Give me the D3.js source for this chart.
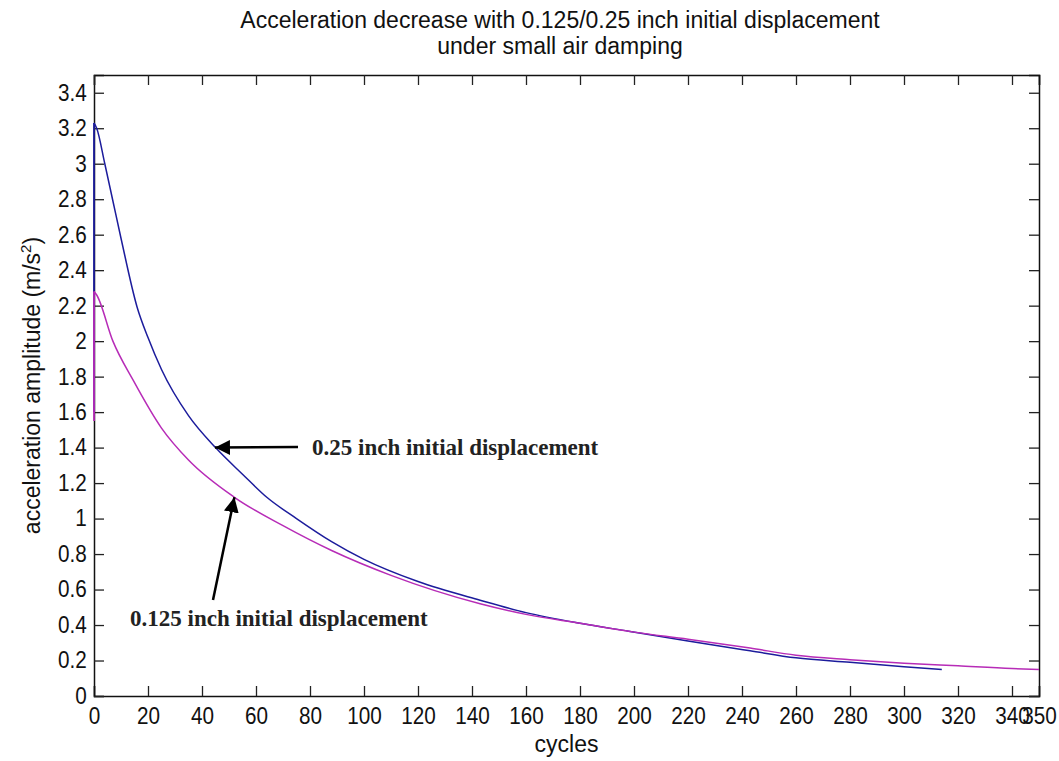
<!DOCTYPE html>
<html>
<head>
<meta charset="utf-8">
<script src="https://cdn.jsdelivr.net/npm/d3@7"></script>
<style>
  body { margin: 0; background: #fff; }
  svg text { font-family: "Liberation Sans", Arial, sans-serif; fill: #111; }
  .note { font-family: "Liberation Serif", "Times New Roman", serif; font-weight: bold; fill: #222; }
</style>
</head>
<body>
<svg id="chart" width="1059" height="761"></svg>
<script>
// cycles / amplitude (first point = the low start sample at cycle 0)
var cyc25 = [0, 0, 1, 4, 7, 10, 16, 20, 25, 35, 45, 55, 64, 75, 88, 100, 120, 143, 160, 180, 198, 220, 243, 260, 280, 300, 314];
var acc25 = [1.6, 3.23, 3.2, 3.0, 2.79, 2.58, 2.19, 2.02, 1.84, 1.58, 1.40, 1.25, 1.12, 1.0, 0.87, 0.77, 0.645, 0.54, 0.47, 0.41, 0.365, 0.31, 0.255, 0.215, 0.19, 0.165, 0.15];

var cyc125 = [0, 0, 1, 7, 14.5, 25, 35, 52, 70, 88, 110, 143, 160, 180, 200, 220, 243, 260, 280, 300, 320, 340, 350];
var acc125 = [1.55, 2.28, 2.26, 2.0, 1.78, 1.51, 1.33, 1.12, 0.96, 0.82, 0.68, 0.52, 0.46, 0.41, 0.36, 0.32, 0.27, 0.23, 0.205, 0.185, 0.17, 0.155, 0.15];

var xTicks = d3.range(0, 351, 20).concat([350]);
var yTicks = d3.range(0, 35, 2).map(function(d) { return d / 10; });

var titleLines = ["Acceleration decrease with 0.125/0.25 inch initial displacement", "under small air damping"];

var margin = {top: 75, right: 20, bottom: 65, left: 94},
    width = 1059 - margin.left - margin.right,
    height = 761 - margin.top - margin.bottom;

var svg = d3.select("#chart");
var g = svg.append("g").attr("transform", "translate(" + margin.left + "," + margin.top + ")");

var x = d3.scaleLinear().domain([0, 350]).range([0, width]);
var y = d3.scaleLinear().domain([0, 3.5]).range([height, 0]);

var fmt = function(d) { return d3.format("~g")(d); };
var tk = 10;

// axes, MATLAB style: inward ticks on all sides
var axB = g.append("g").attr("transform", "translate(0," + height + ")")
    .call(d3.axisBottom(x).tickValues(xTicks).tickSize(-tk).tickPadding(8).tickFormat(fmt));
var axL = g.append("g")
    .call(d3.axisLeft(y).tickValues(yTicks).tickSize(-tk).tickPadding(8).tickFormat(fmt));
var axT = g.append("g")
    .call(d3.axisTop(x).tickValues(xTicks).tickSize(-tk).tickFormat(""));
var axR = g.append("g").attr("transform", "translate(" + width + ",0)")
    .call(d3.axisRight(y).tickValues(yTicks).tickSize(-tk).tickFormat(""));

[axB, axL, axT, axR].forEach(function(a) {
    a.select(".domain").attr("stroke", "#111").attr("stroke-width", 1.5);
    a.selectAll(".tick line").attr("stroke", "#222").attr("stroke-width", 1.3);
    a.selectAll(".tick text").attr("font-size", 23).attr("fill", "#111")
        .style("font-family", "'Liberation Sans', Arial, sans-serif");
});
// squeeze the digits a bit, the original font is narrow
axB.selectAll(".tick text").attr("dy", "0.85em").attr("transform", "scale(0.9,1)");
axL.selectAll(".tick text").attr("transform", "scale(0.9,1)");

var lineStraight = d3.line()
    .x(function(d) { return x(d[0]); })
    .y(function(d) { return y(d[1]); });
var lineSmooth = d3.line()
    .curve(d3.curveMonotoneX)
    .x(function(d) { return x(d[0]); })
    .y(function(d) { return y(d[1]); });

function drawSeries(cyc, acc, color) {
    var pts = d3.zip(cyc, acc);
    // vertical jump at cycle 0, then the decay
    g.append("path").datum(pts.slice(0, 2))
        .attr("fill", "none").attr("stroke", color).attr("stroke-width", 1.8)
        .attr("d", lineStraight);
    g.append("path").datum(pts.slice(1))
        .attr("fill", "none").attr("stroke", color).attr("stroke-width", 1.5)
        .attr("d", lineSmooth);
}
drawSeries(cyc25, acc25, "#1c1c9c");
drawSeries(cyc125, acc125, "#b72cb7");

// title
svg.append("g").selectAll("text").data(titleLines).enter().append("text")
    .attr("x", 560).attr("y", function(d, i) { return 28 + i * 26; })
    .attr("text-anchor", "middle").attr("font-size", 23)
    .text(function(d) { return d; });

// axis labels
svg.append("text")
    .attr("x", margin.left + width / 2).attr("y", 752)
    .attr("text-anchor", "middle").attr("font-size", 23)
    .text("cycles");

var yl = svg.append("text")
    .attr("transform", "translate(40," + (margin.top + height / 2) + ") rotate(-90)")
    .attr("text-anchor", "middle").attr("font-size", 23);
yl.append("tspan").text("acceleration amplitude (m/s");
yl.append("tspan").attr("dy", -9).attr("font-size", 15).text("2");
yl.append("tspan").attr("dy", 9).text(")");

// annotations with arrows
svg.append("defs").append("marker")
    .attr("id", "head").attr("viewBox", "0 0 10 10")
    .attr("refX", 10).attr("refY", 5)
    .attr("markerWidth", 6).attr("markerHeight", 6)
    .attr("orient", "auto")
  .append("path").attr("d", "M0,0 L10,5 L0,10 z").attr("fill", "#000");

var notes = [
    {text: "0.25 inch initial displacement", tx: 312, ty: 455, from: [298, 447], to: [x(44.8), y(1.40)]},
    {text: "0.125 inch initial displacement", tx: 130, ty: 626, from: [213, 600], to: [x(52), y(1.12)]}
];

notes.forEach(function(n) {
    svg.append("line")
        .attr("x1", n.from[0]).attr("y1", n.from[1])
        .attr("x2", n.to[0] + margin.left).attr("y2", n.to[1] + margin.top)
        .attr("stroke", "#000").attr("stroke-width", 2.5)
        .attr("marker-end", "url(#head)");
    svg.append("text").attr("class", "note")
        .attr("x", n.tx).attr("y", n.ty)
        .attr("font-size", 23)
        .text(n.text);
});
</script>
</body>
</html>
